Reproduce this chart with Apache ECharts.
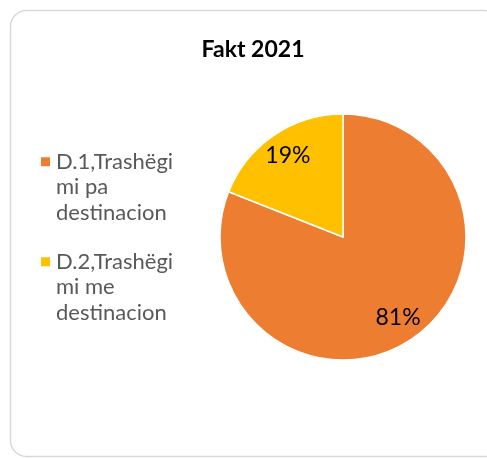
<!DOCTYPE html>
<html>
<head>
<meta charset="utf-8">
<script src="https://cdn.jsdelivr.net/npm/echarts@6/dist/echarts.min.js"></script>
<style>
  html, body { margin: 0; padding: 0; background: #fff; }
  #main { width: 487px; height: 458px; }
</style>
</head>
<body>
<div id="main"></div>
<script>
var categories = ['D.1,Trashëgimi pa destinacion', 'D.2,Trashëgimi me destinacion'];
var values = [81, 19];
var colors = ['#ED7D31', '#FFC000'];

var myChart = echarts.init(document.getElementById('main'));

var pieData = categories.map(function (name, i) {
    return { name: name, value: values[i], itemStyle: { color: colors[i] } };
});

option = {
    backgroundColor: '#fff',
    title: {
        text: 'Fakt 2021',
        left: 248,
        top: 33,
        textAlign: 'center',
        textStyle: { fontFamily: 'Lato', fontWeight: 'bold', fontSize: 23, color: '#000' }
    },
    graphic: [{
        type: 'rect',
        shape: { x: 10.5, y: 10.5, width: 490, height: 446, r: 16 },
        style: { fill: 'none', stroke: '#d9d9d9', lineWidth: 1.5 },
        silent: true
    }],
    legend: {
        orient: 'vertical',
        left: 34,
        top: 93,
        padding: 5,
        itemWidth: 11,
        itemHeight: 11,
        itemGap: -27.5,
        icon: 'rect',
        data: categories,
        // two blank lines in front keep the marker level with the first text line
        formatter: function (name) {
            return '\n\n' + name.replace('Trashëgimi ', 'Trashëgi\nmi ').replace(' destinacion', '\ndestinacion');
        },
        textStyle: {
            fontFamily: 'Lato',
            fontSize: 22,
            lineHeight: 25.5,
            color: '#595959'
        }
    },
    series: [{
        type: 'pie',
        center: [343, 237],
        radius: [0, 123],
        startAngle: 90,
        clockwise: true,
        silent: true,
        label: { show: false },
        labelLine: { show: false },
        itemStyle: { borderColor: '#fff', borderWidth: 1.5 },
        data: pieData
    }, {
        type: 'pie',
        center: [343, 237],
        radius: [0, 190],
        startAngle: 90,
        clockwise: true,
        silent: true,
        z: 3,
        itemStyle: { color: 'rgba(0,0,0,0)' },
        label: {
            show: true,
            position: 'inside',
            formatter: '{c}%',
            fontFamily: 'Lato',
            fontSize: 23,
            color: '#000'
        },
        labelLine: { show: false },
        data: pieData.map(function (d) { return { name: d.name, value: d.value }; })
    }]
};

myChart.setOption(option);
</script>
</body>
</html>
